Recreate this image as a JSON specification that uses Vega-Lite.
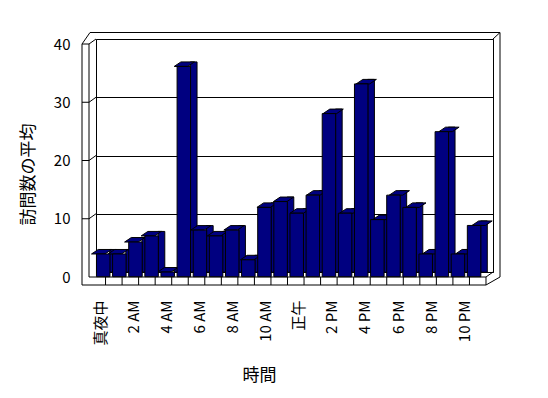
{
  "$schema": "https://vega.github.io/schema/vega-lite/v6.json",
  "width": 397,
  "height": 233,
  "autosize": {"type": "none"},
  "padding": {"left": 96, "top": 39, "right": 55, "bottom": 126},
  "background": "white",
  "config": {"view": {"stroke": "black", "strokeWidth": 1}, "font": "Noto Sans CJK JP"},
  "datasets": {
    "visits": [
      {"idx": 0, "hour": "真夜中", "visits": 3.9},
      {"idx": 1, "hour": "1 AM", "visits": 3.9},
      {"idx": 2, "hour": "2 AM", "visits": 5.95},
      {"idx": 3, "hour": "3 AM", "visits": 7.0},
      {"idx": 4, "hour": "4 AM", "visits": 0.8},
      {"idx": 5, "hour": "5 AM", "visits": 36.1},
      {"idx": 6, "hour": "6 AM", "visits": 8.0},
      {"idx": 7, "hour": "7 AM", "visits": 7.0},
      {"idx": 8, "hour": "8 AM", "visits": 8.0},
      {"idx": 9, "hour": "9 AM", "visits": 2.9},
      {"idx": 10, "hour": "10 AM", "visits": 11.9},
      {"idx": 11, "hour": "11 AM", "visits": 12.9},
      {"idx": 12, "hour": "正午", "visits": 10.9},
      {"idx": 13, "hour": "1 PM", "visits": 14.0},
      {"idx": 14, "hour": "2 PM", "visits": 28.0},
      {"idx": 15, "hour": "3 PM", "visits": 10.9},
      {"idx": 16, "hour": "4 PM", "visits": 33.1},
      {"idx": 17, "hour": "5 PM", "visits": 9.8},
      {"idx": 18, "hour": "6 PM", "visits": 14.0},
      {"idx": 19, "hour": "7 PM", "visits": 11.9},
      {"idx": 20, "hour": "8 PM", "visits": 3.9},
      {"idx": 21, "hour": "9 PM", "visits": 24.9},
      {"idx": 22, "hour": "10 PM", "visits": 3.9},
      {"idx": 23, "hour": "11 PM", "visits": 8.8}
    ],
    "gridticks": [{"v": 10}, {"v": 20}, {"v": 30}],
    "one": [{"k": 1}]
  },
  "data": {"name": "visits"},
  "resolve": {"scale": {"x": "independent", "y": "independent"}},
  "layer": [
    {
      "mark": {"type": "rule", "color": "black", "strokeWidth": 1, "xOffset": 1.27, "x2Offset": 1.27, "yOffset": 5, "y2Offset": 13},
      "encoding": {
        "x": {"field": "idx", "type": "quantitative", "scale": {"domain": [-0.5, 23.5], "nice": false, "zero": false},
          "title": "時間",
          "axis": {"title": "時間", "values": [0, 2, 4, 6, 8, 10, 12, 14, 16, 18, 20, 22],
            "labelExpr": "['真夜中','2 AM','4 AM','6 AM','8 AM','10 AM','正午','2 PM','4 PM','6 PM','8 PM','10 PM'][datum.value/2]",
            "labelAngle": 270, "labelAlign": "right", "labelBaseline": "middle", "labelPadding": 28, "labelOffset": -4,
            "labelFontSize": 15, "labelColor": "#000000", "labelFont": "Noto Sans CJK JP", "labelOverlap": false, "labelFlush": false, "labelBound": false,
            "domain": false, "ticks": false, "tickSize": 0, "grid": false,
            "titleFontSize": 17, "titleFontWeight": "normal", "titleColor": "black", "titleFont": "Noto Sans CJK JP",
            "titleX": 163, "titleY": 103, "titleAlign": "center", "titleBaseline": "middle"}},
        "y": {"datum": 0, "type": "quantitative", "scale": {"domain": [0, 40], "nice": false, "zero": false},
          "title": "訪問数の平均",
          "axis": {"title": "訪問数の平均", "values": [0, 10, 20, 30, 40], "grid": true, "gridColor": "black", "gridOpacity": 1, "gridWidth": 1,
            "domain": false, "ticks": false, "tickSize": 0, "labelPadding": 26, "labelOffset": 5,
            "labelFontSize": 15, "labelColor": "black", "labelFont": "Noto Sans CJK JP",
            "titleFontSize": 17, "titleFontWeight": "normal", "titleColor": "black", "titleFont": "Noto Sans CJK JP",
            "titleX": -68, "titleY": 135, "titleAngle": 270, "titleAlign": "center", "titleBaseline": "middle"}},
        "y2": {"datum": 0}
      }
    },
    {
      "data": {"name": "one"},
      "mark": {"type": "rule", "color": "black", "strokeWidth": 1, "xOffset": -14, "x2Offset": -7, "yOffset": 5, "y2Offset": 5},
      "encoding": {"x": {"datum": -0.5, "type": "quantitative", "scale": {"domain": [-0.5, 23.5], "nice": false, "zero": false}, "axis": null}, "x2": {"datum": -0.5},
        "y": {"datum": 40, "type": "quantitative", "scale": {"domain": [0, 40], "nice": false, "zero": false}, "axis": null}, "y2": {"datum": 40}}
    },
    {
      "data": {"name": "one"},
      "mark": {"type": "rule", "color": "black", "strokeWidth": 1, "xOffset": -14, "x2Offset": -14, "yOffset": 5, "y2Offset": 13},
      "encoding": {"x": {"datum": -0.5, "type": "quantitative", "scale": {"domain": [-0.5, 23.5], "nice": false, "zero": false}, "axis": null}, "x2": {"datum": -0.5},
        "y": {"datum": 40, "type": "quantitative", "scale": {"domain": [0, 40], "nice": false, "zero": false}, "axis": null}, "y2": {"datum": 0}}
    },
    {
      "data": {"name": "one"},
      "mark": {"type": "rule", "color": "black", "strokeWidth": 1, "xOffset": -7, "x2Offset": -7, "yOffset": 5, "y2Offset": 5},
      "encoding": {"x": {"datum": -0.5, "type": "quantitative", "scale": {"domain": [-0.5, 23.5], "nice": false, "zero": false}, "axis": null}, "x2": {"datum": -0.5},
        "y": {"datum": 40, "type": "quantitative", "scale": {"domain": [0, 40], "nice": false, "zero": false}, "axis": null}, "y2": {"datum": 0}}
    },
    {
      "data": {"name": "one"},
      "mark": {"type": "rule", "color": "black", "strokeWidth": 1, "xOffset": -7, "x2Offset": 0, "yOffset": 5, "y2Offset": 0},
      "encoding": {"x": {"datum": -0.5, "type": "quantitative", "scale": {"domain": [-0.5, 23.5], "nice": false, "zero": false}, "axis": null}, "x2": {"datum": -0.5},
        "y": {"datum": 40, "type": "quantitative", "scale": {"domain": [0, 40], "nice": false, "zero": false}, "axis": null}, "y2": {"datum": 40}}
    },
    {
      "data": {"name": "one"},
      "mark": {"type": "rule", "color": "black", "strokeWidth": 1, "xOffset": -14, "x2Offset": -6, "yOffset": 5, "y2Offset": -6.5},
      "encoding": {"x": {"datum": -0.5, "type": "quantitative", "scale": {"domain": [-0.5, 23.5], "nice": false, "zero": false}, "axis": null}, "x2": {"datum": -0.5},
        "y": {"datum": 40, "type": "quantitative", "scale": {"domain": [0, 40], "nice": false, "zero": false}, "axis": null}, "y2": {"datum": 40}}
    },
    {
      "data": {"name": "one"},
      "mark": {"type": "rule", "color": "black", "strokeWidth": 1, "xOffset": -6, "x2Offset": 7, "yOffset": -6.5, "y2Offset": -6.5},
      "encoding": {"x": {"datum": -0.5, "type": "quantitative", "scale": {"domain": [-0.5, 23.5], "nice": false, "zero": false}, "axis": null}, "x2": {"datum": 23.5},
        "y": {"datum": 40, "type": "quantitative", "scale": {"domain": [0, 40], "nice": false, "zero": false}, "axis": null}, "y2": {"datum": 40}}
    },
    {
      "data": {"name": "one"},
      "mark": {"type": "rule", "color": "black", "strokeWidth": 1, "xOffset": 7, "x2Offset": 7, "yOffset": -6.5, "y2Offset": 5},
      "encoding": {"x": {"datum": 23.5, "type": "quantitative", "scale": {"domain": [-0.5, 23.5], "nice": false, "zero": false}, "axis": null}, "x2": {"datum": 23.5},
        "y": {"datum": 40, "type": "quantitative", "scale": {"domain": [0, 40], "nice": false, "zero": false}, "axis": null}, "y2": {"datum": 0}}
    },
    {
      "data": {"name": "one"},
      "mark": {"type": "rule", "color": "black", "strokeWidth": 1, "xOffset": 0, "x2Offset": 7, "yOffset": 0, "y2Offset": -6.5},
      "encoding": {"x": {"datum": 23.5, "type": "quantitative", "scale": {"domain": [-0.5, 23.5], "nice": false, "zero": false}, "axis": null}, "x2": {"datum": 23.5},
        "y": {"datum": 40, "type": "quantitative", "scale": {"domain": [0, 40], "nice": false, "zero": false}, "axis": null}, "y2": {"datum": 40}}
    },
    {
      "data": {"name": "one"},
      "mark": {"type": "rule", "color": "black", "strokeWidth": 1, "xOffset": -7, "x2Offset": -7, "yOffset": 5, "y2Offset": 5},
      "encoding": {"x": {"datum": -0.5, "type": "quantitative", "scale": {"domain": [-0.5, 23.5], "nice": false, "zero": false}, "axis": null}, "x2": {"datum": 23.5},
        "y": {"datum": 0, "type": "quantitative", "scale": {"domain": [0, 40], "nice": false, "zero": false}, "axis": null}, "y2": {"datum": 0}}
    },
    {
      "data": {"name": "one"},
      "mark": {"type": "rule", "color": "black", "strokeWidth": 1, "xOffset": -14, "x2Offset": -7, "yOffset": 13, "y2Offset": 13},
      "encoding": {"x": {"datum": -0.5, "type": "quantitative", "scale": {"domain": [-0.5, 23.5], "nice": false, "zero": false}, "axis": null}, "x2": {"datum": 23.5},
        "y": {"datum": 0, "type": "quantitative", "scale": {"domain": [0, 40], "nice": false, "zero": false}, "axis": null}, "y2": {"datum": 0}}
    },
    {
      "data": {"name": "one"},
      "mark": {"type": "rule", "color": "black", "strokeWidth": 1, "xOffset": -7, "x2Offset": 0, "yOffset": 5, "y2Offset": 0},
      "encoding": {"x": {"datum": 23.5, "type": "quantitative", "scale": {"domain": [-0.5, 23.5], "nice": false, "zero": false}, "axis": null}, "x2": {"datum": 23.5},
        "y": {"datum": 0, "type": "quantitative", "scale": {"domain": [0, 40], "nice": false, "zero": false}, "axis": null}, "y2": {"datum": 0}}
    },
    {
      "data": {"name": "one"},
      "mark": {"type": "rule", "color": "black", "strokeWidth": 1, "xOffset": -7, "x2Offset": 7, "yOffset": 13, "y2Offset": 5},
      "encoding": {"x": {"datum": 23.5, "type": "quantitative", "scale": {"domain": [-0.5, 23.5], "nice": false, "zero": false}, "axis": null}, "x2": {"datum": 23.5},
        "y": {"datum": 0, "type": "quantitative", "scale": {"domain": [0, 40], "nice": false, "zero": false}, "axis": null}, "y2": {"datum": 0}}
    },
    {
      "data": {"name": "gridticks"},
      "mark": {"type": "rule", "color": "black", "strokeWidth": 1, "xOffset": -14, "x2Offset": -7, "yOffset": 5, "y2Offset": 5},
      "encoding": {"x": {"datum": -0.5, "type": "quantitative", "scale": {"domain": [-0.5, 23.5], "nice": false, "zero": false}, "axis": null}, "x2": {"datum": -0.5},
        "y": {"field": "v", "type": "quantitative", "scale": {"domain": [0, 40], "nice": false, "zero": false}, "axis": null}, "y2": {"field": "v"}}
    },
    {
      "data": {"name": "gridticks"},
      "mark": {"type": "rule", "color": "black", "strokeWidth": 1, "xOffset": -7, "x2Offset": 0, "yOffset": 5, "y2Offset": 0},
      "encoding": {"x": {"datum": -0.5, "type": "quantitative", "scale": {"domain": [-0.5, 23.5], "nice": false, "zero": false}, "axis": null}, "x2": {"datum": -0.5},
        "y": {"field": "v", "type": "quantitative", "scale": {"domain": [0, 40], "nice": false, "zero": false}, "axis": null}, "y2": {"field": "v"}}
    },
    {
      "mark": {"type": "bar", "orient": "vertical", "width": 6.7, "fill": "#000080", "stroke": "black", "strokeWidth": 1, "opacity": 1},
      "encoding": {
        "x": {"field": "idx", "type": "quantitative", "scale": {"domain": [-0.7479, 23.2521], "nice": false, "zero": false}, "axis": null},
        "y": {"field": "visits", "type": "quantitative", "scale": {"domain": [0.0343, 40.0343], "nice": false, "zero": false}, "axis": null},
        "y2": {"datum": 0}
      }
    },
    {
      "mark": {"type": "point", "shape": "M -6.75 0 L -0.05 -4.5 L 13.45 -4.5 L 6.75 0 Z", "size": 4, "filled": true, "fill": "#000080", "stroke": "black", "strokeWidth": 1, "opacity": 1},
      "encoding": {
        "x": {"field": "idx", "type": "quantitative", "scale": {"domain": [-0.1373, 23.8627], "nice": false, "zero": false}, "axis": null},
        "y": {"field": "visits", "type": "quantitative", "scale": {"domain": [0.8069, 40.8069], "nice": false, "zero": false}, "axis": null}
      }
    },
    {
      "mark": {"type": "bar", "orient": "vertical", "width": 13.5, "fill": "#000080", "stroke": "black", "strokeWidth": 1, "opacity": 1},
      "encoding": {
        "x": {"field": "idx", "type": "quantitative", "scale": {"domain": [-0.1373, 23.8627], "nice": false, "zero": false}, "axis": null},
        "y": {"field": "visits", "type": "quantitative", "scale": {"domain": [0.8069, 40.8069], "nice": false, "zero": false}, "axis": null},
        "y2": {"datum": 0}
      }
    }
  ]
}
